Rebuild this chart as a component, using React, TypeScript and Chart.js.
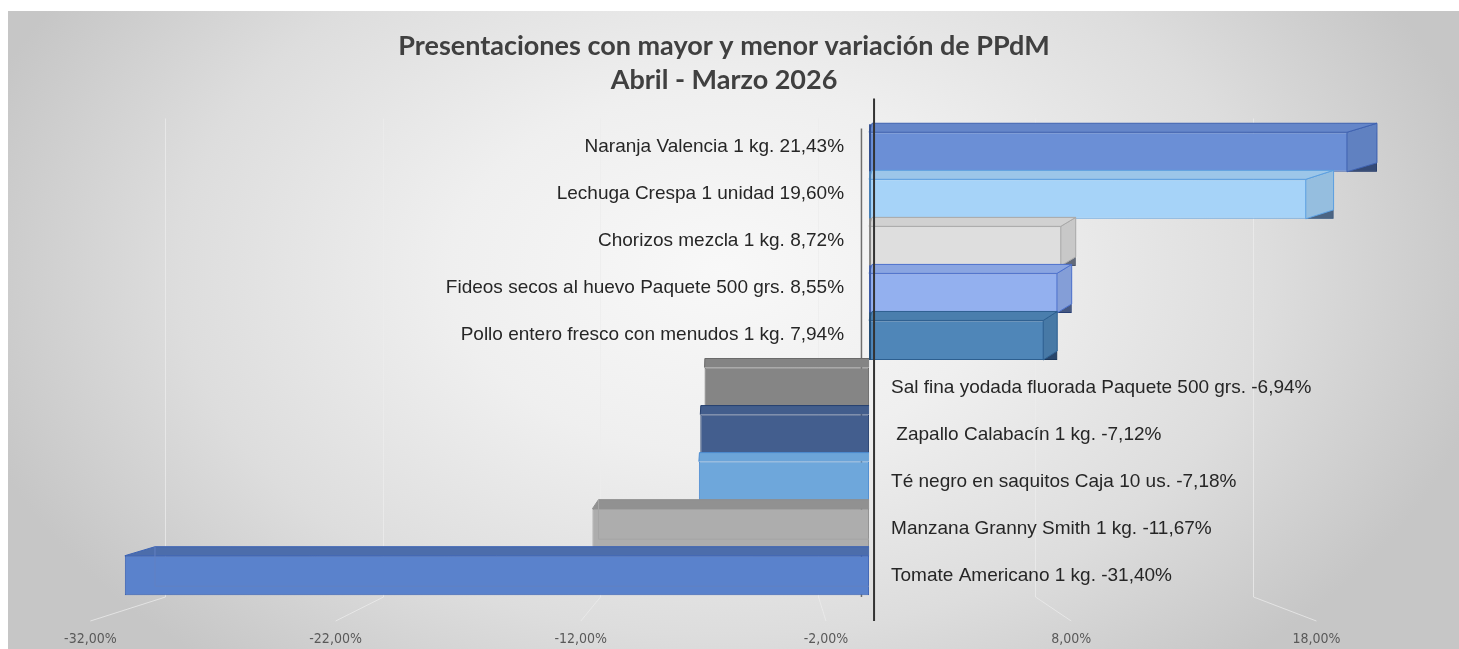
import React, { useEffect, useRef } from 'react';
import { Chart, registerables } from 'chart.js';

Chart.register(...registerables);

const titleLines = ['Presentaciones con mayor y menor variación de PPdM', 'Abril - Marzo 2026'];

const categories = [
  'Naranja Valencia 1 kg.',
  'Lechuga Crespa 1 unidad',
  'Chorizos mezcla 1 kg.',
  'Fideos secos al huevo Paquete 500 grs.',
  'Pollo entero fresco con menudos 1 kg.',
  'Sal fina yodada fluorada Paquete 500 grs.',
  ' Zapallo Calabacín 1 kg.',
  'Té negro en saquitos Caja 10 us.',
  'Manzana Granny Smith 1 kg.',
  'Tomate Americano 1 kg.',
];

const values = [21.43, 19.6, 8.72, 8.55, 7.94, -6.94, -7.12, -7.18, -11.67, -31.4];

const fillColors = [
  '#6b8fd6',
  '#a6d3f8',
  '#dedede',
  '#93b0ef',
  '#4f86b8',
  '#858585',
  '#435e8e',
  '#6ea7db',
  '#adadad',
  '#5a82cc',
];

const borderColors = [
  '#3f62b0',
  '#5b9fe0',
  '#a8a8a8',
  '#4c70cc',
  '#2d5f90',
  '#6a6a6a',
  '#253f6e',
  '#4b8bd0',
  '#8e8e8e',
  '#3b62b3',
];

const tickValues = [-32, -22, -12, -2, 8, 18];
const tickLabels = ['-32,00%', '-22,00%', '-12,00%', '-2,00%', '8,00%', '18,00%'];

const fmtPct = (v: number) => v.toFixed(2).replace('.', ',') + '%';

const shade = (hex: string, f: number) => {
  const n = parseInt(hex.slice(1), 16);
  const t = f < 0 ? 0 : 255;
  const p = Math.abs(f);
  const mix = (c: number) => Math.round((t - c) * p + c);
  return `rgb(${mix((n >> 16) & 255)},${mix((n >> 8) & 255)},${mix(n & 255)})`;
};

const perspectivePlugin = {
  id: 'perspective',
  beforeDatasetsDraw(chart: any) {
    const { ctx, chartArea } = chart;
    const xw = chart.scales.xw;
    const x2 = chart.scales.x2;
    const wallTop = chartArea.top - 10;
    const wallBottom = chartArea.bottom - 2;
    const floorBottom = chartArea.bottom + 22;
    ctx.save();
    ctx.lineWidth = 1;
    ctx.strokeStyle = 'rgba(236,236,236,0.75)';
    tickValues.forEach((v) => {
      const wx = Math.round(xw.getPixelForValue(v)) + 0.5;
      const fx = x2.getPixelForValue(v);
      ctx.beginPath();
      ctx.moveTo(wx, wallTop);
      ctx.lineTo(wx, wallBottom);
      ctx.lineTo(fx, floorBottom);
      ctx.stroke();
    });
    // back-wall zero line
    const wz = xw.getPixelForValue(0);
    ctx.strokeStyle = '#6e6e6e';
    ctx.lineWidth = 1.5;
    ctx.beginPath();
    ctx.moveTo(wz, chartArea.top);
    ctx.lineTo(wz, wallBottom);
    ctx.stroke();
    ctx.restore();
  },
  afterDatasetsDraw(chart: any) {
    const { ctx, chartArea } = chart;
    const meta = chart.getDatasetMeta(0);
    const z = chart.scales.x.getPixelForValue(0);
    const dy = 9;
    meta.data.forEach((el: any, i: number) => {
      const { x, y, base, height } = el.getProps(['x', 'y', 'base', 'height'], true);
      const v = values[i];
      const xL = Math.min(x, base);
      const xR = Math.max(x, base);
      const yT = y - height / 2;
      const yB = y + height / 2;
      const fill = fillColors[i];
      const edge = borderColors[i];
      ctx.save();
      ctx.lineWidth = 1;
      ctx.strokeStyle = edge;
      ctx.lineJoin = 'round';
      if (v >= 0) {
        const dx = 0.05 * (xR - z + 92);
        const xf = xR - dx;
        // shadow triangle under the side face
        ctx.fillStyle = 'rgba(15,28,55,0.6)';
        ctx.beginPath();
        ctx.moveTo(xf, yB);
        ctx.lineTo(xR, yB);
        ctx.lineTo(xR, yB - dy);
        ctx.closePath();
        ctx.fill();
        // side face
        ctx.fillStyle = shade(fill, -0.1);
        ctx.beginPath();
        ctx.moveTo(xf, yT);
        ctx.lineTo(xR, yT - dy);
        ctx.lineTo(xR, yB - dy);
        ctx.lineTo(xf, yB);
        ctx.closePath();
        ctx.fill();
        ctx.stroke();
        // top face
        ctx.fillStyle = shade(fill, -0.06);
        ctx.beginPath();
        ctx.moveTo(xL, yT);
        ctx.lineTo(xf, yT);
        ctx.lineTo(xR, yT - dy);
        ctx.lineTo(xL + 3, yT - dy);
        ctx.closePath();
        ctx.fill();
        ctx.stroke();
        // left dark edge
        ctx.fillStyle = shade(edge, -0.2);
        ctx.fillRect(xL, yT - dy + 1, 2, height + dy - 1);
      } else {
        const dx = Math.max(0, 0.0515 * (z - xL - 159));
        const k = Math.min(1, dx / 6);
        ctx.fillStyle = shade(fill, -0.16 * k);
        ctx.beginPath();
        ctx.moveTo(xL, yT);
        ctx.lineTo(xR, yT);
        ctx.lineTo(xR, yT - dy);
        ctx.lineTo(xL + dx, yT - dy);
        ctx.closePath();
        ctx.fill();
        ctx.beginPath();
        ctx.moveTo(xL, yT);
        ctx.lineTo(xL + dx, yT - dy);
        ctx.lineTo(xR, yT - dy);
        ctx.stroke();
        if (k > 0.5) {
          ctx.beginPath();
          ctx.moveTo(xL, yT);
          ctx.lineTo(xR, yT);
          ctx.stroke();
        }
        if (dx > 2) {
          ctx.strokeStyle = shade(edge, 0.2);
          ctx.beginPath();
          ctx.moveTo(xL + dx, yT - dy);
          ctx.lineTo(xL + dx, yB - dy);
          ctx.lineTo(xR, yB - dy);
          ctx.stroke();
        }
      }
      ctx.restore();
    });
    // main vertical axis line
    ctx.save();
    ctx.strokeStyle = '#333333';
    ctx.lineWidth = 2;
    ctx.beginPath();
    ctx.moveTo(z + 5, chartArea.top - 30);
    ctx.lineTo(z + 5, chartArea.bottom + 22);
    ctx.stroke();
    ctx.restore();
  },
  afterDraw(chart: any) {
    const { ctx } = chart;
    const yScale = chart.scales.y;
    const z = chart.scales.x.getPixelForValue(0);
    ctx.save();
    ctx.font = '19px "Liberation Sans", Arial, sans-serif';
    ctx.fillStyle = '#262626';
    ctx.textBaseline = 'middle';
    categories.forEach((c, i) => {
      const v = values[i];
      const cy = yScale.getPixelForValue(i);
      const text = `${c} ${fmtPct(v)}`;
      if (v >= 0) {
        ctx.textAlign = 'right';
        ctx.fillText(text, z - 25, cy - 5);
      } else {
        ctx.textAlign = 'left';
        ctx.fillText(text, z + 22, cy);
      }
    });
    ctx.restore();
  },
};

export default function App() {
  const canvasRef = useRef<HTMLCanvasElement | null>(null);

  useEffect(() => {
    if (!canvasRef.current) return;
    const chart = new Chart(canvasRef.current, {
      type: 'bar',
      data: {
        labels: categories,
        datasets: [
          {
            data: values,
            backgroundColor: fillColors,
            borderColor: borderColors,
            borderWidth: 1,
            borderSkipped: false,
            barPercentage: 0.84,
            categoryPercentage: 1,
            xAxisID: 'x',
            yAxisID: 'y',
          },
        ],
      },
      options: {
        indexAxis: 'y',
        animation: false,
        responsive: false,
        layout: { padding: { left: 0, right: 19, top: 0, bottom: 0 } },
        plugins: {
          legend: { display: false },
          tooltip: { enabled: false },
          title: {
            display: true,
            text: titleLines,
            color: '#404040',
            font: { family: 'Lato, "Open Sans", sans-serif', size: 27, weight: 'bold', lineHeight: 34 / 27 },
            padding: { top: 18, bottom: 31.5 },
          },
        },
        scales: {
          x: {
            type: 'linear',
            axis: 'x',
            min: -36.33,
            max: 24.09,
            display: false,
          },
          xw: {
            type: 'linear',
            axis: 'x',
            min: -39.24,
            max: 26.6,
            display: false,
          },
          x2: {
            type: 'linear',
            axis: 'x',
            position: 'bottom',
            min: -35.36,
            max: 23.04,
            grid: { display: false, drawTicks: false },
            border: { display: false },
            afterBuildTicks: (s: any) => {
              s.ticks = tickValues.map((v) => ({ value: v }));
            },
            afterFit: (s: any) => {
              s.height = 50;
            },
            ticks: {
              padding: 33,
              autoSkip: false,
              maxRotation: 0,
              color: '#595959',
              font: { family: '"Liberation Sans Narrow", "DejaVu Sans Condensed", sans-serif', size: 14, lineHeight: 1 },
              callback: (_v: any, idx: number) => tickLabels[idx],
            },
          },
          y: {
            type: 'category',
            display: false,
          },
        },
      },
      plugins: [perspectivePlugin],
    } as any);
    return () => chart.destroy();
  }, []);

  return (
    <div
      style={{
        position: 'fixed',
        left: 8,
        top: 11,
        width: 1451,
        height: 638,
        background:
          'radial-gradient(ellipse 780px 520px at 715px 260px, #f8f8f8 0%, #efefef 35%, #dddddd 70%, #c6c6c6 100%)',
      }}
    >
      <canvas ref={canvasRef} width={1451} height={638} style={{ display: 'block' }} />
    </div>
  );
}
